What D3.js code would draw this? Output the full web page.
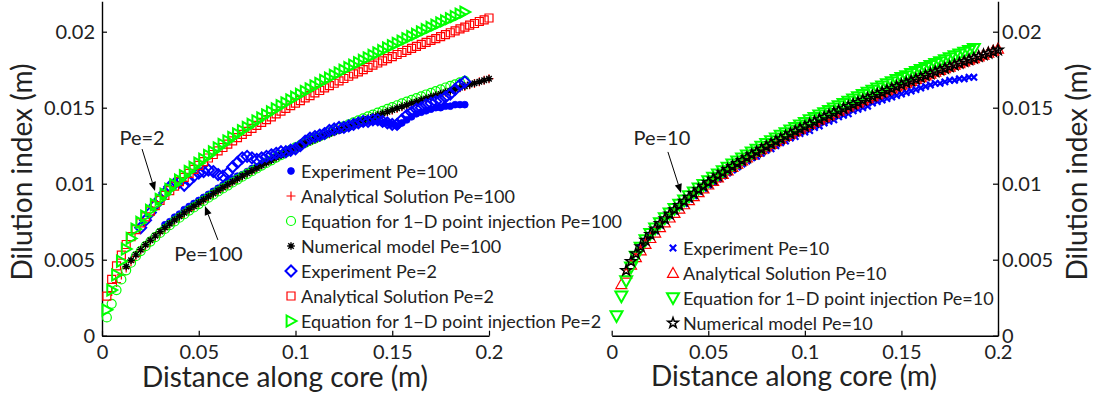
<!DOCTYPE html>
<html>
<head>
<meta charset="utf-8">
<script src="https://cdn.jsdelivr.net/npm/d3@7"></script>
<style>
  body { margin: 0; background: #fff; }
  svg { display: block; }
</style>
</head>
<body>
<svg id="chart" width="1100" height="398"></svg>
<script>
// Distance along the core (m): sampling grid shared by all series
const distance = [
  0.0025,0.005,0.0075,0.01,0.0125,0.015,0.0175,0.02,0.0225,0.025,
  0.0275,0.03,0.0325,0.035,0.0375,0.04,0.0425,0.045,0.0475,0.05,
  0.0525,0.055,0.0575,0.06,0.0625,0.065,0.0675,0.07,0.0725,0.075,
  0.0775,0.08,0.0825,0.085,0.0875,0.09,0.0925,0.095,0.0975,0.1,
  0.1025,0.105,0.1075,0.11,0.1125,0.115,0.1175,0.12,0.1225,0.125,
  0.1275,0.13,0.1325,0.135,0.1375,0.14,0.1425,0.145,0.1475,0.15,
  0.1525,0.155,0.1575,0.16,0.1625,0.165,0.1675,0.17,0.1725,0.175,
  0.1775,0.18,0.1825,0.185,0.1875,0.19,0.1925,0.195,0.1975,0.2
];

const xTicks = [0, 0.05, 0.1, 0.15, 0.2];
const yTicks = [0, 0.005, 0.01, 0.015, 0.02];

// ---- Pe = 100 (left panel), dilution index in m ----
const pe100Experiment = [ // from 0.0325 m
  0.0073,0.0075,0.0078,0.0080,0.0083,0.0085,0.0087,0.0089,0.0091,0.0093,
  0.0095,0.0097,0.0099,0.0101,0.0103,0.0105,0.0106,0.0108,0.0110,0.0111,
  0.0113,0.0115,0.0116,0.0118,0.0119,0.0120,0.0122,0.0123,0.0125,0.0128,
  0.0130,0.0131,0.0131,0.0132,0.0133,0.0134,0.0135,0.0136,0.0137,0.0139,
  0.0140,0.0140,0.0141,0.0141,0.0141,0.0140,0.0140,0.0139,0.0138,0.0140,
  0.0142,0.0144,0.0146,0.0147,0.0148,0.0149,0.0150,0.0150,0.0151,0.0151,
  0.0152,0.0152,0.0152
];
const pe100Analytical = [ // from 0.005 m
  0.0029,0.0035,0.0040,0.00445,0.00486,0.00522,0.00556,0.00588,0.00618,0.00647,
  0.00675,0.00701,0.00727,0.00753,0.00778,0.00802,0.00825,0.00847,0.00869,0.00890,
  0.00911,0.00931,0.00951,0.00971,0.00990,0.01009,0.01028,0.01046,0.01064,0.01082,
  0.01100,0.01118,0.01135,0.01152,0.01169,0.01186,0.01202,0.01218,0.01234,0.01249,
  0.01263,0.01277,0.01290,0.01304,0.01317,0.01329,0.01342,0.01355,0.01367,0.01379,
  0.01391,0.01403,0.01415,0.01427,0.01438,0.01450,0.01461,0.01473,0.01484,0.01495,
  0.01506,0.01517,0.01528,0.01538,0.01549,0.01560,0.01570,0.01580,0.01590,0.01601,
  0.01611,0.01620,0.01631,0.01640,0.01651,0.01660,0.01670,0.01680,0.01691
];
const pe100Equation1D = [ // from 0.0025 m
  0.0012,0.0021,0.0030,0.0037,0.0043,0.0048,0.00523,0.00557,0.00589,0.00619,
  0.00648,0.00676,0.00702,0.00727,0.00752,0.00776,0.00799,0.00823,0.00844,0.00866,
  0.00887,0.00908,0.00928,0.00949,0.00969,0.00988,0.01008,0.01027,0.01046,0.01064,
  0.01082,0.01100,0.01119,0.01137,0.01154,0.01172,0.01188,0.01206,0.01223,0.01239,
  0.01254,0.01269,0.01283,0.01296,0.01311,0.01325,0.01338,0.01352,0.01365,0.01378,
  0.01391,0.01404,0.01417,0.01430,0.01443,0.01455,0.01468,0.01479,0.01492,0.01504,
  0.01516,0.01528,0.01540,0.01552,0.01563,0.01575,0.01587,0.01598,0.01609,0.01620,
  0.01633,0.01644,0.01654,0.01666,0.01676
];
const pe100Numerical = [ // from 0.0125 m
  0.00455,0.00496,0.00532,0.00566,0.00598,0.00628,0.00657,0.00685,0.00711,0.00736,
  0.00761,0.00785,0.00808,0.00831,0.00852,0.00874,0.00895,0.00915,0.00935,0.00955,
  0.00975,0.00994,0.01013,0.01032,0.01050,0.01068,0.01085,0.01103,0.01121,0.01138,
  0.01155,0.01172,0.01188,0.01205,0.01221,0.01237,0.01251,0.01265,0.01278,0.01291,
  0.01305,0.01318,0.01330,0.01343,0.01356,0.01368,0.01380,0.01392,0.01404,0.01416,
  0.01428,0.01439,0.01451,0.01462,0.01474,0.01485,0.01496,0.01507,0.01518,0.01529,
  0.01539,0.01550,0.01561,0.01571,0.01581,0.01591,0.01602,0.01612,0.01621,0.01632,
  0.01641,0.01652,0.01661,0.01671,0.01680,0.01690
];

// ---- Pe = 2 (left panel) ----
const pe2Experiment = [ // from 0.02 m
  0.0071,0.0076,0.0081,0.0086,0.0090,0.0094,0.0098,0.0100,0.0101,0.0099,
  0.0102,0.0105,0.0107,0.0108,0.0109,0.0108,0.0106,0.0105,0.0107,0.0111,
  0.0114,0.0117,0.0118,0.0117,0.0116,0.0117,0.0118,0.0119,0.0120,0.0121,
  0.0121,0.0122,0.0123,0.0125,0.0128,0.0130,0.0131,0.0132,0.0133,0.0135,
  0.0136,0.0137,0.0137,0.0138,0.0139,0.0140,0.0141,0.0141,0.0142,0.0142,
  0.0141,0.0140,0.0139,0.0139,0.0142,0.0145,0.0147,0.0149,0.0150,0.0152,
  0.0153,0.0154,0.0155,0.0157,0.0159,0.0162,0.0165,0.0167
];
const pe2Analytical = [ // from 0.0025 m
  0.0026,0.0037,0.0046,0.0053,0.0060,0.00652,0.00698,0.00742,0.00782,0.00820,
  0.00856,0.00890,0.00923,0.00954,0.00984,0.01013,0.01041,0.01068,0.01094,0.01120,
  0.01145,0.01169,0.01192,0.01216,0.01238,0.01260,0.01282,0.01303,0.01324,0.01344,
  0.01364,0.01384,0.01403,0.01422,0.01440,0.01459,0.01477,0.01495,0.01513,0.01530,
  0.01547,0.01564,0.01580,0.01597,0.01613,0.01630,0.01645,0.01661,0.01676,0.01692,
  0.01707,0.01722,0.01736,0.01751,0.01765,0.01780,0.01794,0.01808,0.01823,0.01836,
  0.01850,0.01863,0.01877,0.01890,0.01903,0.01917,0.01930,0.01943,0.01955,0.01968,
  0.01981,0.01993,0.02005,0.02018,0.02030,0.02043,0.02054,0.02067,0.02078,0.02090
];
const pe2Equation1D = [ // from 0.0025 m
  0.0017,0.0030,0.0040,0.0049,0.0057,0.0064,0.00701,0.00746,0.00787,0.00825,
  0.00862,0.00897,0.00931,0.00963,0.00994,0.01024,0.01053,0.01081,0.01108,0.01135,
  0.01161,0.01186,0.01210,0.01235,0.01258,0.01281,0.01304,0.01327,0.01349,0.01370,
  0.01391,0.01413,0.01433,0.01453,0.01473,0.01493,0.01513,0.01532,0.01551,0.01570,
  0.01588,0.01607,0.01624,0.01643,0.01660,0.01679,0.01695,0.01713,0.01729,0.01747,
  0.01764,0.01780,0.01796,0.01812,0.01828,0.01845,0.01860,0.01876,0.01893,0.01908,
  0.01923,0.01938,0.01954,0.01969,0.01983,0.01999,0.02014,0.02029,0.02043,0.02058,
  0.02072,0.02086,0.02100,0.02115,0.02129
];

// ---- Pe = 10 (right panel) ----
const pe10Experiment = [ // from 0.015 m
  0.0058,0.0062,0.0066,0.0069,0.0073,0.0076,0.0079,0.0082,0.0085,0.0087,
  0.0090,0.0092,0.0095,0.0097,0.0099,0.0101,0.0103,0.0105,0.0107,0.0109,
  0.0111,0.0113,0.0115,0.0117,0.0118,0.0120,0.0122,0.0123,0.0125,0.0127,
  0.0128,0.0130,0.0131,0.0133,0.0134,0.0135,0.0137,0.0138,0.0140,0.0141,
  0.0142,0.0144,0.0145,0.0146,0.0148,0.0149,0.0150,0.0151,0.0153,0.0154,
  0.0155,0.0156,0.0157,0.0158,0.0159,0.0160,0.0161,0.0162,0.0163,0.0164,
  0.0165,0.0166,0.0166,0.0167,0.0168,0.0168,0.0169,0.0169,0.0170,0.0170
];
const pe10Analytical = [ // from 0.005 m
  0.00339,0.00408,0.00466,0.00516,0.00561,0.00603,0.00642,0.00678,0.00713,0.00745,
  0.00777,0.00807,0.00836,0.00864,0.00891,0.00917,0.00944,0.00968,0.00994,0.01018,
  0.01041,0.01064,0.01087,0.01110,0.01132,0.01153,0.01172,0.01191,0.01209,0.01227,
  0.01245,0.01262,0.01279,0.01296,0.01313,0.01329,0.01345,0.01361,0.01376,0.01392,
  0.01407,0.01422,0.01437,0.01451,0.01466,0.01480,0.01494,0.01508,0.01522,0.01535,
  0.01549,0.01562,0.01575,0.01588,0.01601,0.01614,0.01626,0.01640,0.01651,0.01664,
  0.01676,0.01688,0.01700,0.01712,0.01724,0.01736,0.01748,0.01759,0.01770,0.01782,
  0.01793,0.01804,0.01815,0.01826,0.01837,0.01848,0.01862,0.01875,0.01888
];
const pe10Equation1D = [ // from 0.0025 m
  0.0013,0.0026,0.0036,0.0045,0.0052,0.0058,0.0063,0.0067,0.00706,0.00741,
  0.00774,0.00805,0.00835,0.00863,0.00891,0.00918,0.00943,0.00969,0.00992,0.01017,
  0.01040,0.01062,0.01084,0.01106,0.01127,0.01147,0.01167,0.01187,0.01206,0.01225,
  0.01244,0.01263,0.01281,0.01299,0.01316,0.01334,0.01351,0.01368,0.01385,0.01401,
  0.01418,0.01434,0.01450,0.01465,0.01480,0.01496,0.01511,0.01526,0.01541,0.01556,
  0.01570,0.01585,0.01599,0.01613,0.01627,0.01641,0.01655,0.01668,0.01683,0.01696,
  0.01709,0.01723,0.01736,0.01749,0.01762,0.01775,0.01788,0.01801,0.01814,0.01826,
  0.01839,0.01851,0.01863,0.01875,0.01888
];
const pe10Numerical = [ // from 0.0075 m
  0.00429,0.00488,0.00540,0.00586,0.00628,0.00667,0.00703,0.00738,0.00770,0.00801,
  0.00830,0.00858,0.00885,0.00911,0.00936,0.00961,0.00984,0.01008,0.01030,0.01052,
  0.01073,0.01094,0.01114,0.01134,0.01153,0.01172,0.01191,0.01209,0.01227,0.01245,
  0.01262,0.01279,0.01296,0.01313,0.01329,0.01345,0.01361,0.01376,0.01392,0.01407,
  0.01422,0.01437,0.01451,0.01466,0.01480,0.01494,0.01508,0.01522,0.01535,0.01549,
  0.01562,0.01575,0.01588,0.01601,0.01614,0.01626,0.01640,0.01651,0.01664,0.01676,
  0.01688,0.01700,0.01712,0.01724,0.01736,0.01748,0.01759,0.01770,0.01782,0.01793,
  0.01804,0.01815,0.01826,0.01837,0.01848,0.01859,0.01869,0.01880
];

// Start distance of each series on the shared grid (m)
const startDistance = {
  pe100Experiment: 0.0325, pe100Analytical: 0.005, pe100Equation1D: 0.0025, pe100Numerical: 0.0125,
  pe2Experiment: 0.02, pe2Analytical: 0.0025, pe2Equation1D: 0.0025,
  pe10Experiment: 0.015, pe10Analytical: 0.005, pe10Equation1D: 0.0025, pe10Numerical: 0.0075
};

const leftLabels = [
  "Experiment Pe=100", "Analytical Solution Pe=100", "Equation for 1\u2212D point injection Pe=100",
  "Numerical model Pe=100", "Experiment Pe=2", "Analytical Solution Pe=2",
  "Equation for 1\u2212D point injection Pe=2"
];
const rightLabels = [
  "Experiment Pe=10", "Analytical Solution Pe=10",
  "Equation for 1\u2212D point injection Pe=10", "Numerical model Pe=10"
];

// ---------------------------------------------------------------------------
const FONT = "Lato, 'Open Sans', 'DejaVu Sans', sans-serif";
const TEXT = "#222";
const BLUE = "#0000ff", RED = "#ff0000", GREEN = "#00ff00", BLACK = "#000000";

const svg = d3.select("#chart");

const y = d3.scaleLinear().domain([0, 0.022]).range([335.7, 1.3]);
const xLeft = d3.scaleLinear().domain([0, 0.2]).range([102, 489]);
const xRight = d3.scaleLinear().domain([0, 0.2]).range([611.7, 998]);

function pairs(name, values) {
  const i0 = distance.findIndex(d => Math.abs(d - startDistance[name]) < 1e-9);
  return values.map((v, k) => [distance[i0 + k], v]).filter(p => p[0] !== undefined);
}

// MATLAB-like marker outlines centred on the origin
function markerPath(kind, r) {
  switch (kind) {
    case "dot":
    case "circle":
      return `M${-r},0a${r},${r} 0 1,0 ${2 * r},0a${r},${r} 0 1,0 ${-2 * r},0Z`;
    case "plus":
      return `M${-r},0H${r}M0,${-r}V${r}`;
    case "asterisk": {
      const d = r * 0.72;
      return `M${-r},0H${r}M0,${-r}V${r}M${-d},${-d}L${d},${d}M${d},${-d}L${-d},${d}`;
    }
    case "diamond":
      return `M0,${-r}L${r},0L0,${r}L${-r},0Z`;
    case "square":
      return `M${-r},${-r}H${r}V${r}H${-r}Z`;
    case "triRight":
      return `M${-0.8 * r},${-r}L${r},0L${-0.8 * r},${r}Z`;
    case "triUp":
      return `M0,${-r}L${r},${0.8 * r}L${-r},${0.8 * r}Z`;
    case "triDown":
      return `M0,${r}L${r},${-0.8 * r}L${-r},${-0.8 * r}Z`;
    case "x":
      return `M${-r},${-r}L${r},${r}M${r},${-r}L${-r},${r}`;
    case "star": {
      let p = "";
      for (let k = 0; k < 10; k++) {
        const rad = k % 2 === 0 ? r : r * 0.4;
        const a = -Math.PI / 2 + k * Math.PI / 5;
        p += (k === 0 ? "M" : "L") + (rad * Math.cos(a)).toFixed(2) + "," + (rad * Math.sin(a)).toFixed(2);
      }
      return p + "Z";
    }
  }
}

const leftSeries = [
  { name: "pe100Experiment", values: pe100Experiment, kind: "dot", r: 3.4, stroke: BLUE, fill: BLUE, w: 0.8 },
  { name: "pe100Analytical", values: pe100Analytical, kind: "plus", r: 4.5, stroke: RED, fill: "none", w: 1.2 },
  { name: "pe100Equation1D", values: pe100Equation1D, kind: "circle", r: 4.5, stroke: GREEN, fill: "none", w: 1.2 },
  { name: "pe100Numerical", values: pe100Numerical, kind: "asterisk", r: 3.8, stroke: BLACK, fill: "none", w: 1.4 },
  { name: "pe2Experiment", values: pe2Experiment, kind: "diamond", r: 5.5, stroke: BLUE, fill: "none", w: 2 },
  { name: "pe2Analytical", values: pe2Analytical, kind: "square", r: 4, stroke: RED, fill: "none", w: 1.2 },
  { name: "pe2Equation1D", values: pe2Equation1D, kind: "triRight", r: 5.5, stroke: GREEN, fill: "none", w: 2 }
];
const rightSeries = [
  { name: "pe10Experiment", values: pe10Experiment, kind: "x", r: 3.2, stroke: BLUE, fill: "none", w: 2.2 },
  { name: "pe10Analytical", values: pe10Analytical, kind: "triUp", r: 5.5, stroke: RED, fill: "none", w: 1.2 },
  { name: "pe10Equation1D", values: pe10Equation1D, kind: "triDown", r: 6, stroke: GREEN, fill: "none", w: 2 },
  { name: "pe10Numerical", values: pe10Numerical, kind: "star", r: 5.5, stroke: BLACK, fill: "none", w: 1.5 }
];

function drawSeries(x, list) {
  const g = svg.append("g");
  list.forEach(s => {
    g.append("g").selectAll("path")
      .data(pairs(s.name, s.values))
      .join("path")
      .attr("transform", d => `translate(${x(d[0])},${y(d[1])})`)
      .attr("d", markerPath(s.kind, s.r))
      .attr("fill", s.fill)
      .attr("stroke", s.stroke)
      .attr("stroke-width", s.w)
      .attr("stroke-linejoin", "miter");
  });
}

function styleAxis(g) {
  g.select(".domain").attr("stroke", "#000").attr("stroke-width", 1.4);
  g.selectAll(".tick line").attr("stroke", "#000").attr("stroke-width", 1.2);
  g.selectAll(".tick text").attr("fill", TEXT).style("font-family", FONT).style("font-size", "20px");
}

const fmt = d => d === 0 ? "0" : String(d);

// Left panel axes (box off: bottom and left only)
svg.append("g").attr("transform", "translate(0,335.7)")
  .call(d3.axisBottom(xLeft).tickValues(xTicks).tickFormat(fmt).tickSizeInner(-5).tickSizeOuter(0).tickPadding(9))
  .call(styleAxis);
svg.append("g").attr("transform", "translate(102,0)")
  .call(d3.axisLeft(y).tickValues(yTicks).tickFormat(fmt).tickSizeInner(-5).tickSizeOuter(0).tickPadding(7))
  .call(styleAxis);

// Right panel axes (bottom and right)
svg.append("g").attr("transform", "translate(0,335.7)")
  .call(d3.axisBottom(xRight).tickValues(xTicks).tickFormat(fmt).tickSizeInner(-5).tickSizeOuter(0).tickPadding(9))
  .call(styleAxis);
svg.append("g").attr("transform", "translate(998,0)")
  .call(d3.axisRight(y).tickValues(yTicks).tickFormat(fmt).tickSizeInner(-5).tickSizeOuter(0).tickPadding(4))
  .call(styleAxis);

drawSeries(xLeft, leftSeries);
drawSeries(xRight, rightSeries);

// Axis titles
function title(txt, x0, y0, rot) {
  svg.append("text")
    .attr("transform", `translate(${x0},${y0}) rotate(${rot})`)
    .attr("text-anchor", "middle")
    .attr("fill", TEXT)
    .style("font-family", FONT).style("font-size", "28px")
    .text(txt);
}
title("Distance along core (m)", 285, 387, 0);
title("Distance along core (m)", 794, 386, 0);
title("Dilution index (m)", 32, 172, -90);
title("Dilution index (m)", 1087, 172, -90);

// Legends
function legend(list, labels, mx, y0) {
  const g = svg.append("g");
  list.forEach((s, k) => {
    const yy = y0 + k * 25;
    g.append("path")
      .attr("transform", `translate(${mx},${yy})`)
      .attr("d", markerPath(s.kind, s.r))
      .attr("fill", s.fill).attr("stroke", s.stroke).attr("stroke-width", s.w);
    g.append("text")
      .attr("x", mx + 10).attr("y", yy)
      .attr("dominant-baseline", "central")
      .attr("fill", TEXT)
      .style("font-family", FONT).style("font-size", "18px")
      .text(labels[k]);
  });
}
legend(leftSeries, leftLabels, 291, 171);
legend(rightSeries, rightLabels, 673, 248);

// Annotations with arrows (positions in data units)
function annotate(x, label, tx, ty, from, to) {
  svg.append("text")
    .attr("x", x(tx)).attr("y", y(ty))
    .attr("text-anchor", "middle").attr("dominant-baseline", "central")
    .attr("fill", TEXT)
    .style("font-family", FONT).style("font-size", "20px")
    .text(label);
  const x1 = x(from[0]), y1 = y(from[1]), x2 = x(to[0]), y2 = y(to[1]);
  const a = Math.atan2(y2 - y1, x2 - x1), len = 9, half = 3.6;
  const bx = x2 - len * Math.cos(a), by = y2 - len * Math.sin(a);
  svg.append("line")
    .attr("x1", x1).attr("y1", y1).attr("x2", bx).attr("y2", by)
    .attr("stroke", "#000").attr("stroke-width", 1);
  svg.append("path")
    .attr("d", `M${x2},${y2}L${bx - half * Math.sin(a)},${by + half * Math.cos(a)}L${bx + half * Math.sin(a)},${by - half * Math.cos(a)}Z`)
    .attr("fill", "#000");
}
annotate(xLeft, "Pe=2", 0.0207, 0.01308, [0.0207, 0.01228], [0.0274, 0.00952]);
annotate(xLeft, "Pe=100", 0.055, 0.00544, [0.0599, 0.0063], [0.0532, 0.00853]);
annotate(xRight, "Pe=10", 0.026, 0.01308, [0.0291, 0.01209], [0.0359, 0.00939]);
</script>
</body>
</html>
